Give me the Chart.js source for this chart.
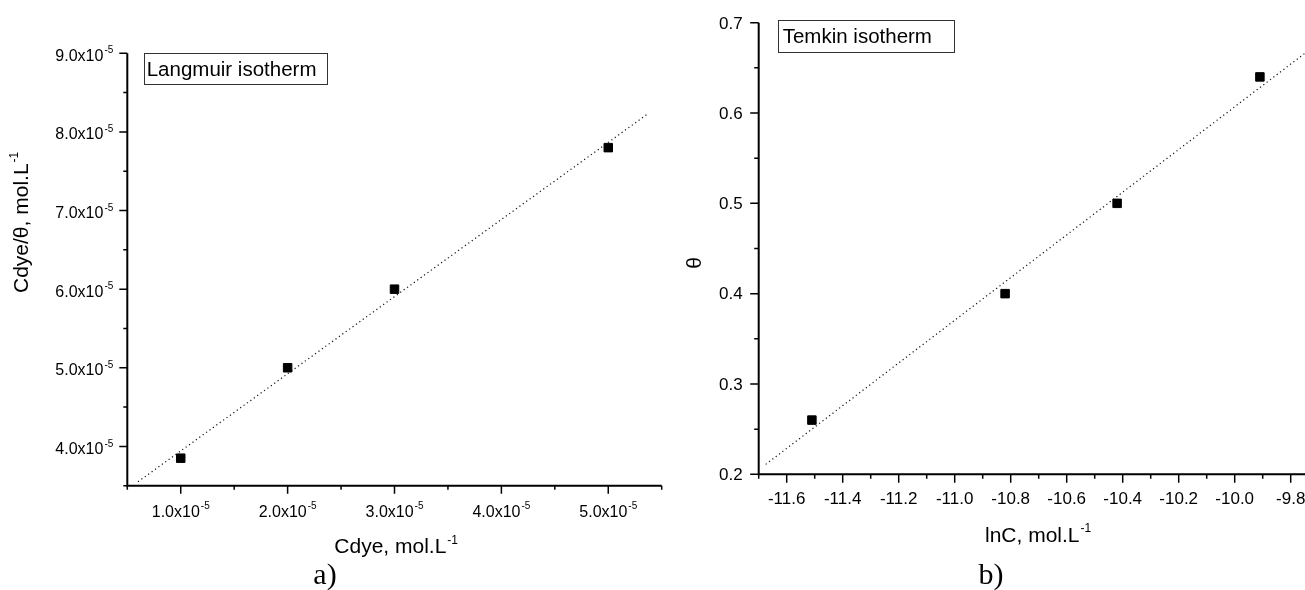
<!DOCTYPE html>
<html>
<head>
<meta charset="utf-8">
<title>Isotherms</title>
<script src="https://cdn.jsdelivr.net/npm/chart.js@4.4.1/dist/chart.umd.min.js"></script>
<style>
  html, body { margin: 0; padding: 0; background: #fff; overflow: hidden; }
  body { width: 1305px; height: 590px; position: relative; }
  canvas { position: absolute; top: 0; }
  #langmuir { left: 0; }
  #temkin { left: 680px; }
</style>
</head>
<body>
<canvas id="langmuir" width="680" height="590"></canvas>
<canvas id="temkin" width="660" height="590"></canvas>
<script>
/* ================= DATA ================= */
// a) Langmuir: Cdye vs Cdye/theta
const langCdye = [1.0e-5, 2.0e-5, 3.0e-5, 5.0e-5];
const langRatio = [3.85e-5, 5.0e-5, 6.0e-5, 7.8e-5];
const langFitX = [0.6e-5, 5.38e-5];
const langFitY = [3.55e-5, 8.24e-5];
const langXTicks = [1e-5, 2e-5, 3e-5, 4e-5, 5e-5];
const langXLabels = ["1.0x10", "2.0x10", "3.0x10", "4.0x10", "5.0x10"];
const langYTicks = [4e-5, 5e-5, 6e-5, 7e-5, 8e-5, 9e-5];
const langYLabels = ["4.0x10", "5.0x10", "6.0x10", "7.0x10", "8.0x10", "9.0x10"];
const langExp = "-5";

// b) Temkin: lnC vs theta
const temLnC = [-11.51, -10.82, -10.42, -9.91];
const temTheta = [0.26, 0.40, 0.50, 0.64];
const temFitX = [-11.675, -9.75];
const temFitY = [0.211, 0.666];
const temXTicks = [-11.6, -11.4, -11.2, -11.0, -10.8, -10.6, -10.4, -10.2, -10.0, -9.8];
const temXLabels = ["-11.6", "-11.4", "-11.2", "-11.0", "-10.8", "-10.6", "-10.4", "-10.2", "-10.0", "-9.8"];
const temYTicks = [0.2, 0.3, 0.4, 0.5, 0.6, 0.7];
const temYLabels = ["0.2", "0.3", "0.4", "0.5", "0.6", "0.7"];

/* ================= HELPERS ================= */
const SANS = '"Liberation Sans", Arial, sans-serif';
const SERIF = '"Liberation Serif", "Times New Roman", serif';

function pts(xs, ys) {
  return xs.map((x, i) => ({ x, y: ys[i] }));
}

// text run with a raised exponent, aligned as a whole
function supText(ctx, main, sup, x, y, size, supSize, align) {
  ctx.font = `${size}px ${SANS}`;
  const w1 = ctx.measureText(main).width;
  ctx.font = `${supSize}px ${SANS}`;
  const w2 = sup ? ctx.measureText(sup).width + 1 : 0;
  const total = w1 + w2;
  const x0 = align === "center" ? x - total / 2 : align === "right" ? x - total : x;
  ctx.textAlign = "left";
  ctx.textBaseline = "alphabetic";
  ctx.font = `${size}px ${SANS}`;
  ctx.fillText(main, x0, y);
  if (sup) {
    ctx.font = `${supSize}px ${SANS}`;
    ctx.fillText(sup, x0 + w1 + 1, y - size * 0.46);
  }
}

function minorValues(min, max, step) {
  const n = Math.round((max - min) / step);
  const out = [];
  for (let i = 0; i <= n; i++) out.push(min + i * step);
  return out;
}

/* ================= AXES PLUGIN ================= */
function axesPlugin(o) {
  return {
    id: "axes",
    afterDatasetsDraw(chart) {
      const { ctx, chartArea: a, scales: { x, y } } = chart;
      ctx.save();
      ctx.strokeStyle = "#000";
      ctx.fillStyle = "#000";

      // axis lines
      ctx.lineWidth = 2;
      ctx.beginPath();
      ctx.moveTo(a.left, a.top);
      ctx.lineTo(a.left, a.bottom + 1);
      ctx.moveTo(a.left - 1, a.bottom);
      ctx.lineTo(a.right, a.bottom);
      ctx.stroke();

      // tick marks, outward
      ctx.lineWidth = 1.5;
      ctx.beginPath();
      minorValues(x.min, x.max, o.xMinorStep).forEach(v => {
        const px = x.getPixelForValue(v);
        ctx.moveTo(px, a.bottom); ctx.lineTo(px, a.bottom + o.minorLen);
      });
      minorValues(y.min, y.max, o.yMinorStep).forEach(v => {
        const py = y.getPixelForValue(v);
        ctx.moveTo(a.left, py); ctx.lineTo(a.left - o.minorLen, py);
      });
      o.xTicks.forEach(v => {
        const px = x.getPixelForValue(v);
        ctx.moveTo(px, a.bottom); ctx.lineTo(px, a.bottom + o.majorLen);
      });
      o.yTicks.forEach(v => {
        const py = y.getPixelForValue(v);
        ctx.moveTo(a.left, py); ctx.lineTo(a.left - o.majorLen, py);
      });
      ctx.stroke();

      // tick labels
      o.xTicks.forEach((v, i) => {
        supText(ctx, o.xLabels[i], o.exp, x.getPixelForValue(v), a.bottom + o.xLabelDrop,
          o.tickFont, 10, "center");
      });
      o.yTicks.forEach((v, i) => {
        supText(ctx, o.yLabels[i], o.exp, a.left - o.yLabelGap, y.getPixelForValue(v) + o.yLabelDrop,
          o.tickFont, 10, "right");
      });

      o.extras(ctx);
      ctx.restore();
    }
  };
}

function baseOptions(padding, xMin, xMax, yMin, yMax) {
  return {
    responsive: false,
    animation: false,
    events: [],
    layout: { padding },
    plugins: { legend: { display: false }, tooltip: { enabled: false } },
    scales: {
      x: { type: "linear", display: false, min: xMin, max: xMax },
      y: { type: "linear", display: false, min: yMin, max: yMax }
    }
  };
}

function pointSet(data) {
  return {
    data,
    showLine: false,
    pointStyle: "rect",
    pointRadius: 6,
    pointBackgroundColor: "#000",
    pointBorderColor: "#000",
    pointBorderWidth: 1
  };
}

function fitSet(data) {
  return {
    data,
    showLine: true,
    pointRadius: 0,
    borderColor: "#111",
    borderWidth: 1.2,
    borderDash: [1.2, 3],
    fill: false
  };
}

/* ================= LANGMUIR ================= */
new Chart(document.getElementById("langmuir"), {
  type: "scatter",
  data: {
    datasets: [
      pointSet(pts(langCdye, langRatio)),
      fitSet(pts(langFitX, langFitY))
    ]
  },
  options: baseOptions({ left: 127.3, right: 18.3, top: 53.3, bottom: 104.3 }, 0.5e-5, 5.5e-5, 3.5e-5, 9.0e-5),
  plugins: [axesPlugin({
    xTicks: langXTicks, xLabels: langXLabels,
    yTicks: langYTicks, yLabels: langYLabels,
    exp: langExp,
    xMinorStep: 0.5e-5, yMinorStep: 0.5e-5,
    majorLen: 8, minorLen: 4,
    tickFont: 16,
    xLabelDrop: 31, yLabelGap: 14, yLabelDrop: 7.5,
    extras(ctx) {
      ctx.lineWidth = 1;
      ctx.strokeStyle = "#333";
      ctx.strokeRect(144.5, 53.5, 183, 31);
      ctx.fillStyle = "#000";
      ctx.font = `20.5px ${SANS}`;
      ctx.textAlign = "left";
      ctx.fillText("Langmuir isotherm", 146.7, 76);

      supText(ctx, "Cdye, mol.L", "-1", 334.3, 553.3, 21, 12, "left");

      ctx.save();
      ctx.translate(27.5, 293);
      ctx.rotate(-Math.PI / 2);
      supText(ctx, "Cdye/θ, mol.L", "-1", 0, 0, 21, 12, "left");
      ctx.restore();

      ctx.font = `30px ${SERIF}`;
      ctx.textAlign = "center";
      ctx.fillText("a)", 325, 584);
    }
  })]
});

/* ================= TEMKIN ================= */
new Chart(document.getElementById("temkin"), {
  type: "scatter",
  data: {
    datasets: [
      pointSet(pts(temLnC, temTheta)),
      fitSet(pts(temFitX, temFitY))
    ]
  },
  options: baseOptions({ left: 78.7, right: 21.3, top: 22.7, bottom: 115.7 }, -11.7, -9.7, 0.2, 0.7),
  plugins: [axesPlugin({
    xTicks: temXTicks, xLabels: temXLabels,
    yTicks: temYTicks, yLabels: temYLabels,
    exp: null,
    xMinorStep: 0.1, yMinorStep: 0.05,
    majorLen: 8.5, minorLen: 4.5,
    tickFont: 17,
    xLabelDrop: 30, yLabelGap: 16, yLabelDrop: 5.8,
    extras(ctx) {
      ctx.lineWidth = 1;
      ctx.strokeStyle = "#333";
      ctx.strokeRect(98.5, 20.5, 176, 32);
      ctx.fillStyle = "#000";
      ctx.font = `20.5px ${SANS}`;
      ctx.textAlign = "left";
      ctx.fillText("Temkin isotherm", 102.7, 43);

      supText(ctx, "lnC, mol.L", "-1", 305, 541.7, 21, 12, "left");

      ctx.save();
      ctx.translate(15, 263);
      ctx.rotate(-Math.PI / 2);
      ctx.font = `21px ${SANS}`;
      ctx.textAlign = "center";
      ctx.textBaseline = "middle";
      ctx.fillText("θ", 0, 0);
      ctx.restore();

      ctx.font = `30px ${SERIF}`;
      ctx.textAlign = "center";
      ctx.textBaseline = "alphabetic";
      ctx.fillText("b)", 311, 584);
    }
  })]
});
</script>
</body>
</html>
